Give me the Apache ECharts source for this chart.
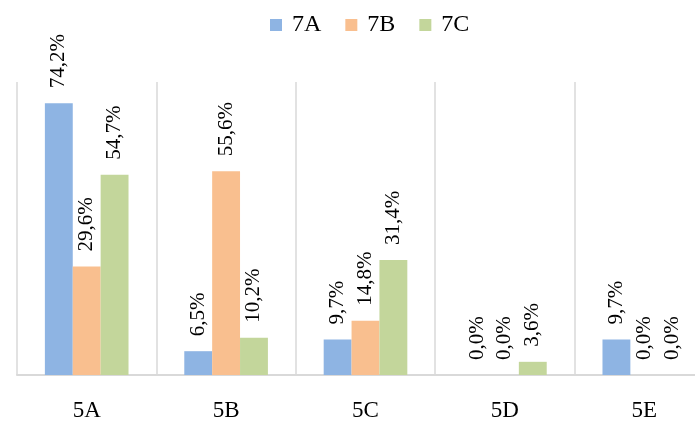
<!doctype html>
<html>
<head>
  <meta charset="utf-8">
  <script src="https://cdn.jsdelivr.net/npm/echarts@6/dist/echarts.min.js"></script>
  <style>
    html, body { margin: 0; width: 100%; height: 100%; background: #fff; }
    #main { width: 695px; height: 424px; }
  </style>
</head>
<body>
  <div id="main"></div>
  <script>
    // categories and series values (percent)
    var classes = ['5A', '5B', '5C', '5D', '5E'];
    var names = ['7A', '7B', '7C'];
    var v7A = [74.2, 6.5, 9.7, 0.0, 9.7];
    var v7B = [29.6, 55.6, 14.8, 0.0, 0.0];
    var v7C = [54.7, 10.2, 31.4, 3.6, 0.0];
    var colors = ['#8EB4E3', '#F9BF8F', '#C3D69B'];

    var font = 'Liberation Serif';

    function makeSeries(name, data, color) {
      return {
        name: name,
        type: 'bar',
        data: data,
        barGap: 0,
        barCategoryGap: '40%',
        itemStyle: { color: color },
        label: {
          show: true,
          position: 'top',
          rotate: 90,
          align: 'left',
          verticalAlign: 'middle',
          distance: 15,
          fontFamily: font,
          fontSize: 21,
          color: '#000',
          formatter: function (p) {
            return p.value.toFixed(1).replace('.', ',') + '%';
          }
        }
      };
    }

    var chart = echarts.init(document.getElementById('main'));
    chart.setOption({
      animation: false,
      color: colors,
      legend: {
        top: 8,
        left: 265,
        itemWidth: 12,
        itemHeight: 12,
        itemGap: 24,
        icon: 'rect',
        textStyle: { fontFamily: font, fontSize: 24, color: '#000', padding: [0, 0, 0, 5] },
        data: names
      },
      // plot runs past the right edge of the window, as in the source
      grid: { left: 17, width: 697, top: 82, bottom: 49, outerBoundsMode: 'none' },
      xAxis: {
        type: 'category',
        data: classes,
        axisLine: { lineStyle: { color: '#d9d9d9', width: 2 } },
        axisTick: { show: false },
        splitLine: { show: true, lineStyle: { color: '#d9d9d9', width: 1.5 } },
        axisLabel: { margin: 24, fontFamily: font, fontSize: 23, color: '#000' }
      },
      yAxis: {
        type: 'value',
        min: 0,
        max: 80,
        show: false
      },
      series: [
        makeSeries(names[0], v7A, colors[0]),
        makeSeries(names[1], v7B, colors[1]),
        makeSeries(names[2], v7C, colors[2])
      ]
    });
  </script>
</body>
</html>
